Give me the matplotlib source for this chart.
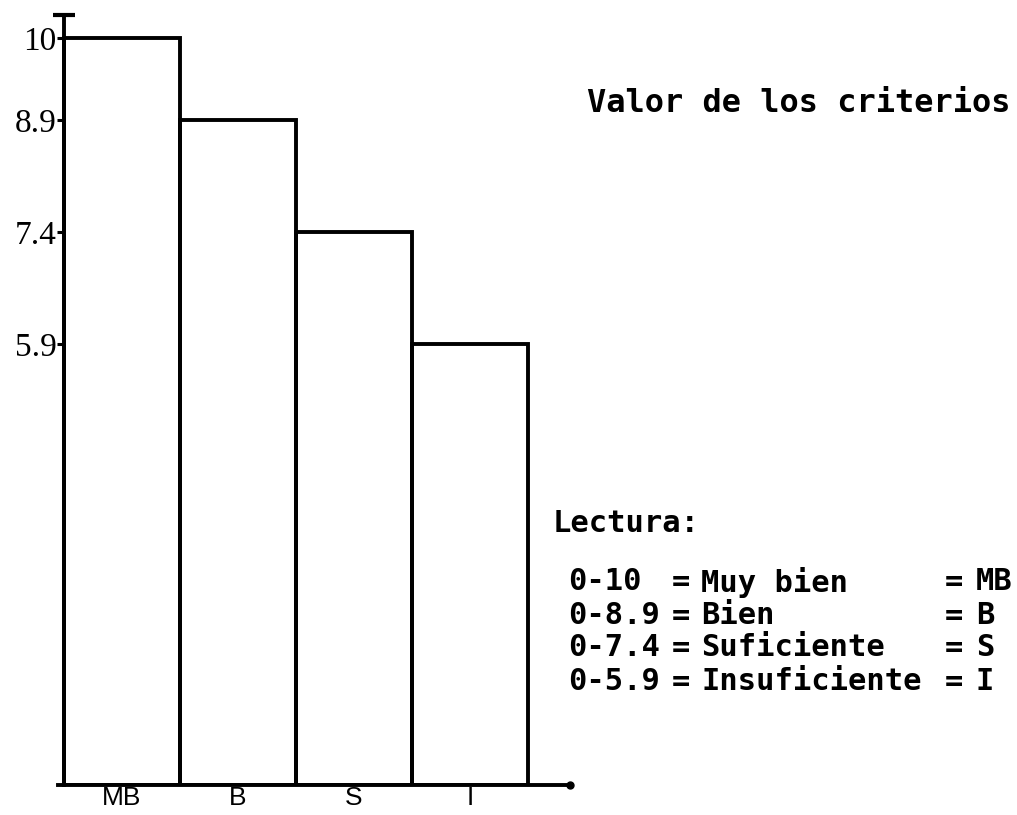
import numpy as np
import matplotlib.pyplot as plt

# Data
categorias = ['MB', 'B', 'S', 'I']
valores = np.array([10., 8.9, 7.4, 5.9])
marcas_y = ['10', '8.9', '7.4', '5.9']

rangos = ['0-10', '0-8.9', '0-7.4', '0-5.9']
nombres = ['Muy bien', 'Bien', 'Suficiente', 'Insuficiente']

W, H = 1017, 815
fig = plt.figure(figsize=(W / 100, H / 100), dpi=100)

# axes placed in pixel terms (left edge 58, baseline 785, top 15, right 570)
ax = fig.add_axes([58 / W, (H - 785) / H, (570 - 58) / W, (785 - 15) / H])

X = np.arange(len(valores))
ax.bar(X, valores, width=1.0, align='edge', fill=False,
       edgecolor='black', linewidth=2.8)

ax.set_xlim(-0.05, 4.364)
ax.set_ylim(0, 10.31)

# Spines
ax.spines['top'].set_visible(False)
ax.spines['right'].set_visible(False)
ax.spines['left'].set_position(('data', 0))
ax.spines['left'].set_linewidth(2.8)
ax.spines['bottom'].set_linewidth(2.8)

# Y ticks at the bar values
ax.set_yticks(valores)
ax.set_yticklabels(marcas_y, family='Liberation Serif', fontsize=24)
ax.tick_params(axis='y', direction='out', length=5, width=2.2, pad=0)

# X labels below each bar
ax.set_xticks(X + 0.5)
ax.set_xticklabels(categorias, family='Liberation Sans', fontsize=19)
ax.tick_params(axis='x', length=0, pad=1)

# little caps at the axis ends
ax.plot(0, 10.31, marker='_', markersize=16, mew=3, color='black', clip_on=False)
ax.plot(4.364, 0, marker='o', markersize=5, color='black', clip_on=False)

# Text on the right side
mono = dict(family='DejaVu Sans Mono', fontweight='bold', color='black', va='center')

def px(x, y):
    return x / W, 1 - y / H

fig.text(*px(587, 103), 'Valor de los criterios', fontsize=23, ha='left', **mono)
fig.text(*px(553, 524), 'Lectura:', fontsize=22, ha='left', **mono)

filas_y = [582, 615, 648, 681]
for r, n, c, y in zip(rangos, nombres, categorias, filas_y):
    fig.text(*px(568, y), r, fontsize=22, ha='left', **mono)
    fig.text(*px(672, y), '=', fontsize=22, ha='left', **mono)
    fig.text(*px(701, y), n, fontsize=22, ha='left', **mono)
    fig.text(*px(945, y), '=', fontsize=22, ha='left', **mono)
    fig.text(*px(976, y), c, fontsize=22, ha='left', **mono)

plt.savefig('out.png', dpi=100)
